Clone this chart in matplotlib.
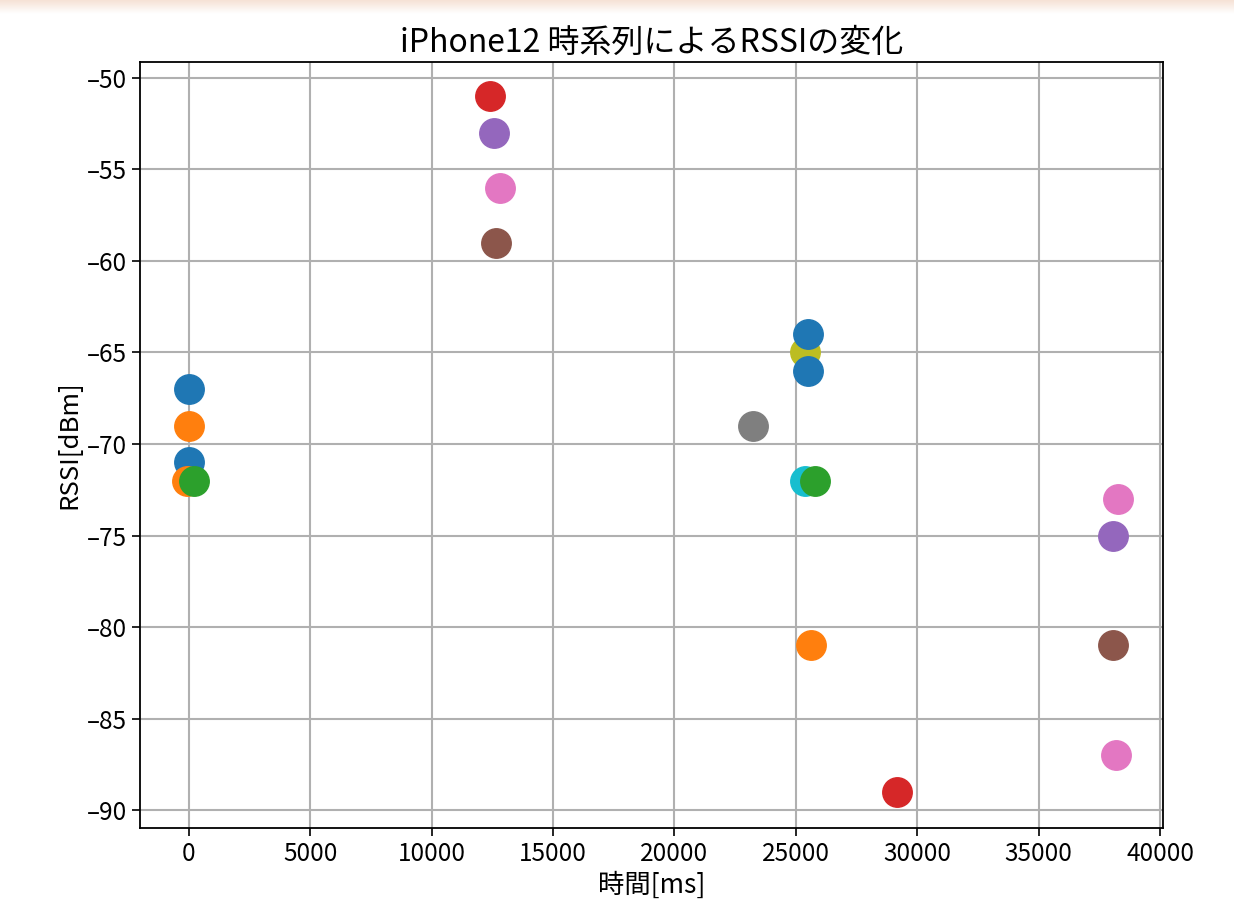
import matplotlib
matplotlib.use('Agg')
import matplotlib.pyplot as plt
import numpy as np

plt.rcParams['font.family'] = ['Noto Sans CJK JP', 'DejaVu Sans']

# one entry per scatter call: (time [ms], rssi [dBm]) lists
times = [
    [0, 0],
    [0, -80],
    [200],
    [12400],
    [12550],
    [12630],
    [12800],
    [23250],
    [25390],
    [25390],
    [25510, 25510],
    [25640],
    [25800],
    [29180],
    [38070],
    [38070],
    [38190, 38270],
]
rssi = [
    [-67, -71],
    [-69, -72],
    [-72],
    [-51],
    [-53],
    [-59],
    [-56],
    [-69],
    [-65],
    [-72],
    [-64, -66],
    [-81],
    [-72],
    [-89],
    [-75],
    [-81],
    [-87, -73],
]

fig = plt.figure(figsize=(12.34, 9.18), dpi=100)
ax = fig.add_axes([0.1135, 0.098, 0.829, 0.8345])

# faint band left over from the screenshot
band = fig.add_axes([0, 0.985, 1, 0.015])
band.imshow(np.linspace(0, 1, 20).reshape(-1, 1), aspect='auto',
            cmap=matplotlib.colors.LinearSegmentedColormap.from_list(
                'peach', ['#f6e2d6', '#ffffff']))
band.axis('off')

for t, r in zip(times, rssi):
    ax.scatter(t, r, s=450, zorder=3)

ax.set_xlim(-2010, 40120)
ax.set_ylim(-90.98, -49.13)
ax.set_xticks(range(0, 40001, 5000))
ax.set_yticks(range(-90, -49, 5))
ax.set_yticklabels(['\u2013%d' % abs(v) for v in range(-90, -49, 5)])
ax.grid(True, color='#b0b0b0', linewidth=1.5)
ax.set_axisbelow(True)
ax.tick_params(labelsize=17.5, length=6, width=1.2)
for sp in ax.spines.values():
    sp.set_linewidth(1.3)

ax.set_title('iPhone12 時系列によるRSSIの変化', fontsize=23, pad=7)
ax.set_xlabel('時間[ms]', fontsize=19, labelpad=3)
ax.set_ylabel('RSSI[dBm]', fontsize=18.5, labelpad=3)

fig.savefig('out.png', dpi=100)
